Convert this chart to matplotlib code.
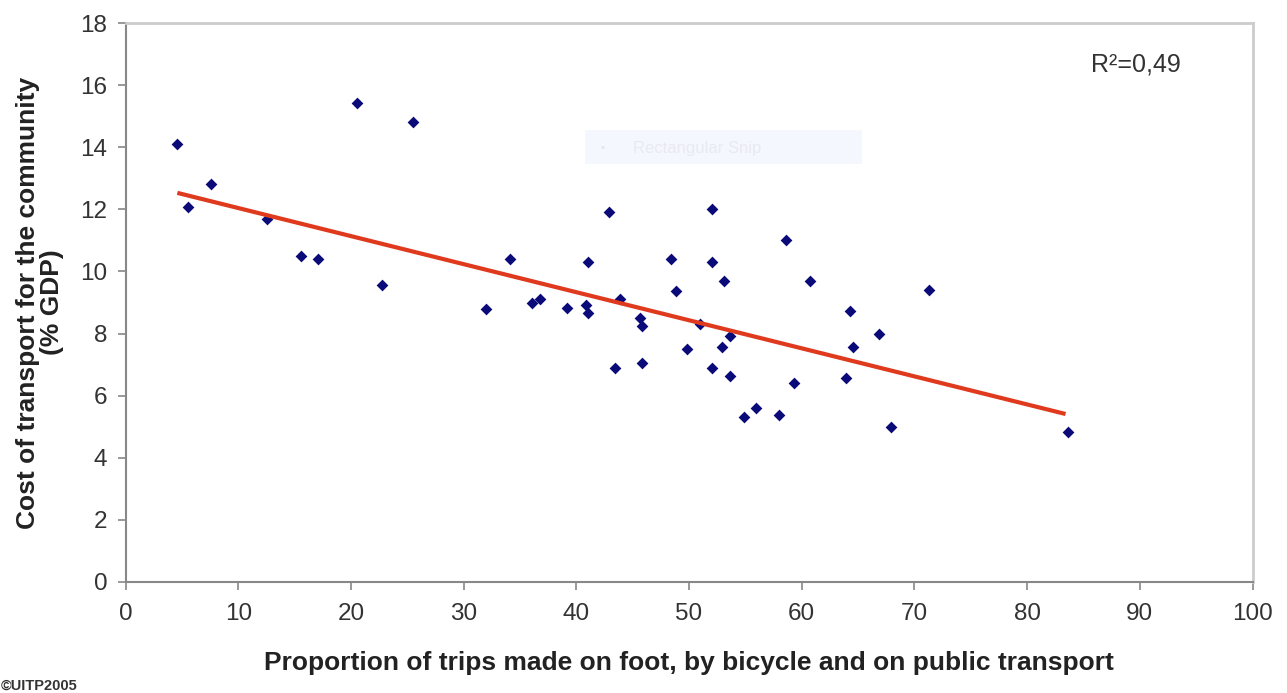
import matplotlib
matplotlib.use("Agg")
import matplotlib.pyplot as plt
from matplotlib.patches import Rectangle

plt.rcParams['font.family'] = ['Liberation Sans', 'DejaVu Sans']

# Data
share_x = [4.6, 5.57, 7.56, 12.56, 15.54, 17.07, 20.5, 22.74, 25.47,
           31.98, 34.12, 36.1, 36.8, 39.19, 40.88, 41.08, 41.08, 42.87,
           43.86, 43.46, 45.65, 45.85, 45.85, 48.43, 48.83, 49.82, 51.0,
           52.01, 52.01, 52.01, 53.1, 52.9, 53.6, 53.6, 54.9, 55.98,
           57.97, 58.57, 59.36, 60.75, 63.93, 64.33, 64.53, 66.82, 67.91,
           71.29, 83.67]
cost_y = [14.1, 12.08, 12.8, 11.69, 10.5, 10.39, 15.41, 9.56, 14.8,
          8.78, 10.4, 8.99, 9.1, 8.81, 8.92, 8.67, 10.31, 11.9,
          9.1, 6.9, 8.51, 8.25, 7.05, 10.4, 9.38, 7.5, 8.31,
          12.0, 10.31, 6.89, 9.69, 7.58, 7.92, 6.63, 5.32, 5.61,
          5.39, 11.0, 6.42, 9.7, 6.56, 8.74, 7.56, 7.98, 5.0,
          9.41, 4.83]
trend_x = [4.6, 83.41]
trend_y = [12.53, 5.41]
x_ticks = [0, 10, 20, 30, 40, 50, 60, 70, 80, 90, 100]
y_ticks = [0, 2, 4, 6, 8, 10, 12, 14, 16, 18]
r2_label = "R²=0,49"
x_label = "Proportion of trips made on foot, by bicycle and on public transport"
y_label = "Cost of transport for the community\n(% GDP)"
credit = "©UITP2005"

W, H = 1287, 693
fig = plt.figure(figsize=(W / 100, H / 100), dpi=100)
ax = fig.add_axes([125.5 / W, 1 - 582 / H, (1252.5 - 125.5) / W, (582 - 23) / H])

ax.scatter(share_x, cost_y, marker='D', s=36, color='#0a0a78', zorder=2,
           linewidths=0)
ax.plot(trend_x, trend_y, color='#e03a1e', lw=3.0, zorder=3,
        solid_capstyle='butt')

ax.set_xlim(0, 100)
ax.set_ylim(0, 18)
ax.set_xticks(x_ticks)
ax.set_yticks(y_ticks)
ax.tick_params(axis='both', direction='out', length=6, width=1.2,
               color='#888888', labelsize=17.5, labelcolor='#333333')
ax.tick_params(axis='x', pad=9)
ax.tick_params(axis='y', pad=7)

for side in ['left', 'bottom']:
    ax.spines[side].set_color('#888888')
    ax.spines[side].set_linewidth(1.5)
for side in ['top', 'right']:
    ax.spines[side].set_color('#cccccc')
    ax.spines[side].set_linewidth(2.0)

ax.set_xlabel(x_label, fontsize=19, fontweight='bold', color='#222222',
              labelpad=19)
ax.set_ylabel(y_label, fontsize=19, fontweight='bold', color='#222222',
              labelpad=12, linespacing=1.0)

ax.text(0.936, 0.925, r2_label, transform=ax.transAxes, ha='right',
        va='center', fontsize=18, color='#333333')

# faint screenshot artifact box
fig.patches.append(Rectangle((585 / W, 1 - 164 / H), 277 / W, 34 / H,
                             transform=fig.transFigure, facecolor='#f4f7fd',
                             edgecolor='none', zorder=0))
fig.text(600 / W, 1 - 148 / H, "▪", fontsize=8, color='#e4e6ee',
         va='center', ha='left')
fig.text(633 / W, 1 - 148 / H, "Rectangular Snip", fontsize=12,
         color='#e8eaf0', va='center', ha='left')

fig.text(1 / W, 1 - 686 / H, credit, fontsize=10.5, fontweight='bold',
         color='#333333', ha='left', va='center')

fig.savefig('out.png', dpi=100)
